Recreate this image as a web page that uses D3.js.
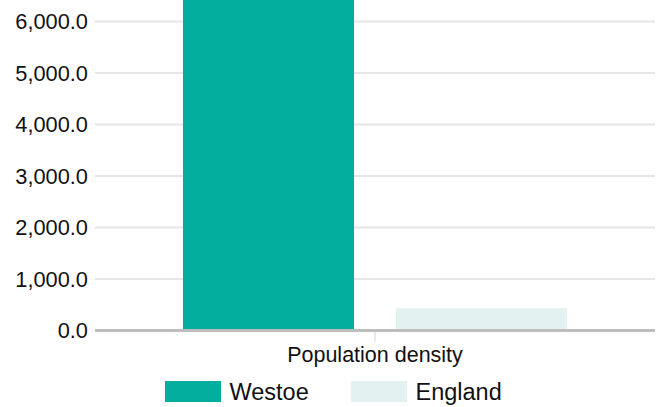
<!DOCTYPE html>
<html><head><meta charset="utf-8">
<script src="https://cdn.jsdelivr.net/npm/d3@7/dist/d3.min.js"></script>
<style>body{margin:0;background:#fff}svg{display:block;font-family:"Liberation Sans",Arial,sans-serif}</style>
</head><body><svg id="c" width="659" height="407"></svg>
<script>
const categories = ["Population density"];
const seriesNames = ["Westoe", "England"];
const westoe = [6500];
const england = [434];
const yTicks = [0, 1000, 2000, 3000, 4000, 5000, 6000];
const colors = ["#03ae9f", "#e3f2f1"];

const svg = d3.select("#c");
const left = 95, right = 655, y0 = 330.5, y6000 = 21.5;
const y = d3.scaleLinear().domain([0, 6000]).range([y0, y6000]);
const x0 = d3.scaleBand().domain(categories).range([left, right]).paddingInner(0).paddingOuter(0);
const x1 = d3.scaleBand().domain(seriesNames).range([0, x0.bandwidth()]).paddingInner(0.197).paddingOuter(0.413);

const fmt = d3.format(",.1f");
// gridlines
svg.append("g").selectAll("line").data(yTicks.filter(d => d > 0)).join("line")
  .attr("x1", left).attr("x2", right).attr("y1", d => y(d)).attr("y2", d => y(d))
  .attr("stroke", "#e6e6e6").attr("stroke-width", 2);
// y labels
svg.append("g").selectAll("text").data(yTicks).join("text")
  .attr("x", 88).attr("y", d => y(d)).attr("dy", "0.36em").attr("text-anchor", "end")
  .attr("font-size", 21.8).attr("fill", "#111").text(d => fmt(d));

const data = [westoe, england];
const g = svg.append("g");
categories.forEach((c, ci) => {
  seriesNames.forEach((s, si) => {
    const v = data[si][ci];
    g.append("rect").attr("x", x0(c) + x1(s)).attr("width", x1.bandwidth())
      .attr("y", y(v)).attr("height", y(0) - y(v)).attr("fill", colors[si]);
  });
});
// zero line
svg.append("line").attr("x1", left).attr("x2", right).attr("y1", y(0)).attr("y2", y(0))
  .attr("stroke", "#bdbdbd").attr("stroke-width", 3);
// x tick + label
categories.forEach(c => {
  const cx = x0(c) + x0.bandwidth() / 2;
  svg.append("line").attr("x1", cx).attr("x2", cx).attr("y1", y(0) + 1.5).attr("y2", y(0) + 11)
    .attr("stroke", "#e0e0e0").attr("stroke-width", 1.5);
  svg.append("text").attr("x", cx).attr("y", 362).attr("text-anchor", "middle")
    .attr("font-size", 21.5).attr("fill", "#111").text(c);
});
// legend
const legX = [165, 351];
seriesNames.forEach((s, i) => {
  svg.append("rect").attr("x", legX[i]).attr("y", 381).attr("width", 56).attr("height", 21).attr("fill", colors[i]);
  svg.append("text").attr("x", legX[i] + 64.5).attr("y", 400).attr("font-size", 23.5).attr("fill", "#111").text(s);
});
</script></body></html>
